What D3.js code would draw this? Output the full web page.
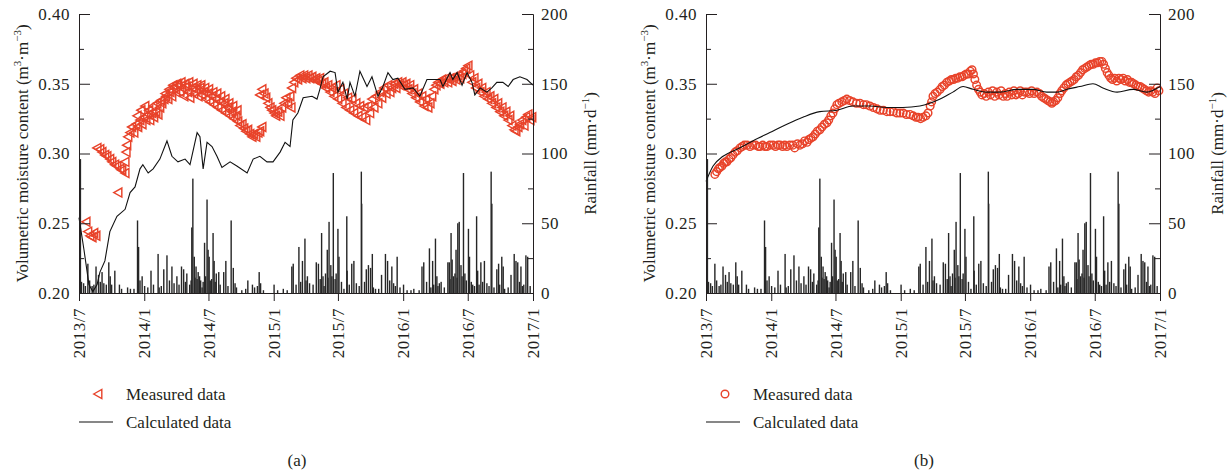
<!DOCTYPE html>
<html>
<head>
<meta charset="utf-8">
<script src="https://cdn.jsdelivr.net/npm/d3@7"></script>
<style>
    body { margin: 0; background: #fff; }
    text { font-family: "Liberation Serif", "DejaVu Serif", serif; fill: #231f20; font-size: 17px; }
    .tick text { letter-spacing: 0.5px; }
</style>
</head>
<body>
<svg id="chart" width="1230" height="475"></svg>
<script>
// x axis runs from 2013/7 to 2017/1, day offsets below are counted from 2013-07-01
let xTickLabels = ["2013/7", "2014/1", "2014/7", "2015/1", "2015/7", "2016/1", "2016/7", "2017/1"];
let moistTicks = [0.20, 0.25, 0.30, 0.35, 0.40];
let moistMinor = [0.225, 0.275, 0.325, 0.375];
let rainTicks = [0, 50, 100, 150, 200];
let rainMinor = [25, 75, 125, 175];

// daily rainfall [day, mm] (same for both panels)
let rainfall = [
    [4, 96], [7, 8], [13, 7], [18, 5], [25, 21], [30, 9], [37, 5], [42, 6], [48, 19], [55, 13], [60, 8], [65, 15],
    [70, 7], [77, 6], [84, 22], [88, 12], [92, 6], [101, 16], [114, 6], [120, 3], [137, 4], [145, 3], [155, 3],
    [165, 52], [168, 33], [172, 9], [178, 12], [185, 5], [194, 4], [203, 16], [210, 6], [223, 28], [226, 4],
    [232, 5], [239, 17], [248, 27], [255, 9], [262, 19], [268, 7], [276, 12], [282, 6], [289, 19], [295, 17],
    [300, 8], [304, 14], [312, 6], [316, 9], [318, 47], [321, 82], [325, 26], [327, 11], [330, 19], [333, 10],
    [336, 15], [340, 12], [343, 9], [347, 4], [350, 8], [354, 36], [357, 12], [361, 67], [364, 31], [367, 26],
    [370, 9], [374, 10], [378, 43], [381, 23], [384, 8], [387, 14], [394, 15], [398, 6], [408, 15], [414, 23],
    [420, 5], [429, 52], [435, 18], [440, 7], [444, 4], [459, 2], [470, 3], [476, 9], [489, 6], [495, 4],
    [503, 5], [508, 15], [512, 7], [520, 2], [550, 6], [560, 2], [576, 3], [587, 2], [600, 19], [604, 21],
    [612, 6], [620, 33], [625, 8], [630, 23], [637, 39], [640, 9], [644, 12], [650, 7], [660, 6], [669, 22],
    [675, 21], [680, 10], [684, 43], [688, 12], [691, 5], [695, 14], [700, 31], [702, 11], [705, 51], [710, 20],
    [713, 12], [717, 86], [722, 10], [725, 14], [730, 46], [733, 26], [740, 8], [747, 3], [755, 55], [756, 16],
    [762, 6], [769, 21], [775, 23], [782, 7], [790, 5], [796, 87], [797, 64], [805, 8], [810, 17], [816, 20],
    [822, 18], [827, 28], [830, 4], [836, 3], [845, 3], [853, 13], [864, 28], [870, 23], [876, 9], [882, 19],
    [887, 7], [892, 5], [897, 26], [905, 4], [915, 6], [925, 2], [936, 2], [944, 3], [959, 2], [967, 19],
    [972, 22], [980, 8], [988, 32], [992, 4], [997, 23], [1000, 6], [1005, 39], [1009, 12], [1012, 5], [1016, 7],
    [1021, 8], [1030, 4], [1040, 22], [1044, 22], [1046, 10], [1049, 43], [1052, 24], [1056, 12], [1060, 14],
    [1063, 31], [1066, 11], [1068, 50], [1072, 51], [1077, 20], [1080, 12], [1084, 86], [1088, 14], [1092, 9],
    [1098, 46], [1101, 26], [1106, 8], [1110, 6], [1115, 5], [1121, 55], [1124, 16], [1128, 6], [1133, 22],
    [1138, 8], [1143, 23], [1150, 7], [1156, 5], [1162, 87], [1164, 64], [1170, 4], [1178, 17], [1183, 21],
    [1186, 6], [1192, 26], [1196, 19], [1200, 3], [1210, 4], [1218, 13], [1227, 28], [1232, 23], [1237, 22],
    [1242, 8], [1246, 19], [1250, 5], [1254, 6], [1260, 27], [1265, 26], [1272, 5]
];

// panel (a) measured moisture [day, m3/m3]
let measuredA = [
    [20, 0.251], [25, 0.244], [31, 0.241], [37, 0.240], [42, 0.243], [48, 0.241],
    [51, 0.304], [59, 0.303], [65, 0.301], [73, 0.299], [79, 0.298], [87, 0.296], [93, 0.294], [101, 0.292],
    [107, 0.291], [110, 0.272], [116, 0.289], [121, 0.288], [130, 0.286],
    [130, 0.294], [133, 0.301], [135, 0.306], [138, 0.312], [144, 0.315], [149, 0.319], [155, 0.315], [161, 0.321],
    [166, 0.319], [172, 0.324], [178, 0.321], [183, 0.326], [189, 0.324], [195, 0.328], [200, 0.324], [206, 0.329],
    [211, 0.326], [217, 0.330], [223, 0.328], [228, 0.333], [234, 0.336], [240, 0.339], [245, 0.341], [251, 0.339],
    [257, 0.344], [262, 0.341], [268, 0.347], [273, 0.344], [279, 0.349], [285, 0.344], [290, 0.347], [296, 0.341],
    [302, 0.348], [307, 0.344], [313, 0.340], [319, 0.347], [324, 0.343], [330, 0.346], [336, 0.341], [341, 0.347],
    [347, 0.342], [352, 0.344], [358, 0.339], [364, 0.343], [369, 0.337], [375, 0.341], [381, 0.335], [386, 0.339],
    [392, 0.333], [398, 0.337], [403, 0.331], [409, 0.336], [414, 0.329], [420, 0.333], [426, 0.327], [431, 0.330],
    [437, 0.325], [443, 0.327], [448, 0.323], [454, 0.320], [460, 0.321], [465, 0.318], [471, 0.316], [476, 0.317],
    [482, 0.314], [488, 0.312], [493, 0.314], [499, 0.312], [505, 0.315], [510, 0.316], [516, 0.319],
    [164, 0.327], [175, 0.331], [186, 0.334], [197, 0.331], [209, 0.334], [220, 0.336], [231, 0.338], [243, 0.343],
    [254, 0.346], [265, 0.349], [276, 0.350], [288, 0.351], [299, 0.350], [310, 0.351], [322, 0.350], [333, 0.349],
    [344, 0.349], [355, 0.347], [366, 0.346], [378, 0.344], [389, 0.343], [400, 0.341], [412, 0.339], [423, 0.336],
    [434, 0.334], [446, 0.331],
    [510, 0.342], [516, 0.346], [522, 0.343], [527, 0.340], [533, 0.336], [539, 0.333], [544, 0.331], [550, 0.329],
    [555, 0.327], [561, 0.330], [567, 0.327], [572, 0.333], [578, 0.336], [584, 0.340], [589, 0.336], [595, 0.341],
    [598, 0.333], [600, 0.347], [606, 0.351], [612, 0.354], [617, 0.353], [623, 0.356], [629, 0.354], [634, 0.356],
    [640, 0.354], [646, 0.356], [651, 0.354], [657, 0.355], [663, 0.353], [668, 0.354], [674, 0.352], [679, 0.354],
    [685, 0.350], [691, 0.351], [696, 0.347], [702, 0.349], [708, 0.344], [713, 0.347], [719, 0.341], [725, 0.349],
    [730, 0.339], [736, 0.346], [742, 0.336], [747, 0.343], [753, 0.333], [758, 0.340], [764, 0.331], [770, 0.339],
    [775, 0.329], [781, 0.336], [787, 0.327], [792, 0.334], [798, 0.326], [804, 0.333], [809, 0.324], [815, 0.334],
    [820, 0.329], [826, 0.339], [832, 0.333], [837, 0.341], [843, 0.336], [849, 0.344], [854, 0.340], [860, 0.347],
    [866, 0.343], [871, 0.349], [877, 0.344], [882, 0.347], [888, 0.350], [894, 0.347], [899, 0.351], [905, 0.349],
    [911, 0.351], [916, 0.349], [922, 0.350], [928, 0.346], [933, 0.349], [939, 0.343], [944, 0.346], [950, 0.340],
    [956, 0.343], [961, 0.337], [967, 0.341], [973, 0.334], [978, 0.339], [984, 0.333], [990, 0.336], [995, 0.341],
    [1001, 0.346], [1007, 0.349], [1012, 0.351], [1018, 0.350], [1023, 0.353], [1029, 0.351], [1035, 0.354],
    [1040, 0.351], [1046, 0.354], [1052, 0.352], [1057, 0.355], [1063, 0.353], [1069, 0.356], [1074, 0.354],
    [1080, 0.357], [1085, 0.359], [1091, 0.361], [1097, 0.363], [1102, 0.356], [1108, 0.351], [1114, 0.354],
    [1119, 0.347], [1125, 0.350], [1131, 0.344], [1136, 0.347], [1142, 0.341], [1148, 0.344], [1153, 0.339],
    [1159, 0.341], [1164, 0.336], [1170, 0.339], [1176, 0.333], [1181, 0.336], [1187, 0.330], [1193, 0.333],
    [1198, 0.327], [1204, 0.330], [1210, 0.324], [1215, 0.327], [1221, 0.320], [1227, 0.317], [1232, 0.316],
    [1238, 0.319], [1243, 0.321], [1249, 0.324], [1255, 0.320], [1260, 0.326], [1266, 0.328], [1272, 0.324],
    [1277, 0.326]
];

// panel (a) calculated moisture
let calculatedA = [
    [0, 0.254], [14, 0.231], [28, 0.206], [39, 0.201], [51, 0.206], [59, 0.215], [73, 0.223], [87, 0.244],
    [107, 0.255], [130, 0.260], [144, 0.272], [158, 0.276], [172, 0.289], [180, 0.292], [195, 0.286], [209, 0.289],
    [228, 0.296], [248, 0.309], [262, 0.298], [279, 0.294], [299, 0.296], [313, 0.292], [333, 0.315], [341, 0.312],
    [350, 0.289], [361, 0.308], [375, 0.305], [389, 0.298], [403, 0.290], [426, 0.294], [445, 0.291], [474, 0.286],
    [491, 0.296], [510, 0.298], [530, 0.294], [547, 0.294], [567, 0.301], [581, 0.308], [595, 0.305], [603, 0.324],
    [617, 0.329], [632, 0.340], [657, 0.341], [671, 0.339], [679, 0.346], [688, 0.355], [708, 0.359], [722, 0.358],
    [730, 0.344], [744, 0.351], [756, 0.339], [764, 0.351], [778, 0.341], [792, 0.359], [812, 0.348], [826, 0.355],
    [843, 0.341], [857, 0.348], [871, 0.358], [885, 0.353], [899, 0.354], [919, 0.346], [942, 0.347], [961, 0.341],
    [981, 0.353], [998, 0.353], [1018, 0.353], [1026, 0.348], [1046, 0.358], [1054, 0.353], [1066, 0.358],
    [1080, 0.349], [1094, 0.358], [1108, 0.351], [1116, 0.342], [1131, 0.347], [1150, 0.344], [1164, 0.347],
    [1178, 0.351], [1195, 0.351], [1210, 0.348], [1224, 0.353], [1243, 0.355], [1263, 0.353], [1280, 0.349]
];

// panel (b) measured moisture
let measuredB = [
    [25, 0.285], [30, 0.287], [35, 0.289], [39, 0.290], [45, 0.291], [50, 0.293], [55, 0.294], [59, 0.294],
    [65, 0.296], [70, 0.297], [76, 0.299], [82, 0.301], [88, 0.302], [96, 0.304], [102, 0.305], [108, 0.306],
    [116, 0.306], [124, 0.305], [132, 0.306], [140, 0.306], [148, 0.305], [152, 0.305], [160, 0.306], [166, 0.305],
    [172, 0.305], [180, 0.306], [189, 0.306], [196, 0.305], [203, 0.306], [209, 0.306], [216, 0.305], [222, 0.306],
    [228, 0.305], [236, 0.306], [245, 0.306], [250, 0.304], [258, 0.307], [265, 0.306], [272, 0.307], [278, 0.309],
    [285, 0.308], [290, 0.310], [296, 0.311], [302, 0.312], [308, 0.314], [314, 0.316], [321, 0.317], [327, 0.319],
    [334, 0.321], [341, 0.322], [346, 0.324], [352, 0.327], [358, 0.329], [363, 0.332], [369, 0.335], [375, 0.336],
    [383, 0.337], [390, 0.338], [397, 0.339], [405, 0.338], [414, 0.337], [424, 0.336], [434, 0.336], [444, 0.335],
    [452, 0.335], [462, 0.334], [472, 0.333], [482, 0.332], [491, 0.331], [500, 0.331], [510, 0.330], [519, 0.330],
    [528, 0.330], [538, 0.329], [547, 0.329], [556, 0.329], [565, 0.328], [575, 0.328], [584, 0.327], [592, 0.326],
    [598, 0.326], [605, 0.325], [612, 0.326], [620, 0.327], [626, 0.329], [632, 0.334], [636, 0.337], [640, 0.341],
    [646, 0.343], [652, 0.344], [660, 0.346], [666, 0.348], [672, 0.349], [679, 0.351], [686, 0.352], [692, 0.353],
    [698, 0.353], [704, 0.354], [710, 0.354], [716, 0.355], [722, 0.355], [728, 0.356], [734, 0.357], [740, 0.357],
    [745, 0.359], [750, 0.360], [754, 0.357], [758, 0.353], [763, 0.349], [768, 0.346], [773, 0.344], [778, 0.342],
    [784, 0.343], [790, 0.341], [796, 0.344], [802, 0.342], [808, 0.345], [814, 0.341], [820, 0.344], [826, 0.342],
    [832, 0.345], [838, 0.341], [844, 0.343], [849, 0.341], [855, 0.344], [862, 0.342], [868, 0.345], [874, 0.342],
    [880, 0.343], [886, 0.345], [892, 0.342], [898, 0.344], [905, 0.344], [912, 0.343], [918, 0.345], [925, 0.343],
    [933, 0.344], [940, 0.343], [946, 0.341], [952, 0.340], [958, 0.339], [964, 0.338], [970, 0.337], [975, 0.336],
    [980, 0.337], [986, 0.338], [992, 0.340], [998, 0.343], [1003, 0.345], [1009, 0.347], [1015, 0.349],
    [1020, 0.350], [1026, 0.351], [1032, 0.352], [1038, 0.353], [1044, 0.355], [1050, 0.356], [1056, 0.358],
    [1062, 0.360], [1068, 0.361], [1074, 0.362], [1080, 0.363], [1086, 0.364], [1092, 0.364], [1098, 0.365],
    [1104, 0.365], [1110, 0.366], [1116, 0.366], [1121, 0.364], [1126, 0.361], [1131, 0.358], [1136, 0.356],
    [1141, 0.354], [1146, 0.353], [1152, 0.354], [1158, 0.352], [1164, 0.354], [1170, 0.353], [1176, 0.354],
    [1182, 0.352], [1188, 0.353], [1194, 0.351], [1200, 0.351], [1206, 0.350], [1212, 0.349], [1218, 0.348],
    [1224, 0.348], [1230, 0.347], [1236, 0.346], [1242, 0.345], [1248, 0.344], [1254, 0.345], [1260, 0.344],
    [1266, 0.343], [1272, 0.347], [1277, 0.345]
];

// panel (b) calculated moisture
let calculatedB = [
    [0, 0.280], [20, 0.291], [48, 0.298], [87, 0.303], [132, 0.309], [180, 0.315], [228, 0.321], [273, 0.326],
    [321, 0.330], [369, 0.331], [414, 0.334], [462, 0.334], [510, 0.333], [555, 0.333], [603, 0.334], [660, 0.339],
    [696, 0.344], [725, 0.348], [753, 0.346], [792, 0.344], [829, 0.344], [877, 0.346], [922, 0.346], [961, 0.344],
    [990, 0.344], [1018, 0.346], [1054, 0.348], [1091, 0.350], [1119, 0.347], [1159, 0.344], [1204, 0.346],
    [1243, 0.344], [1280, 0.348]
];

let svg = d3.select("#chart");
let startDate = new Date(2013, 6, 1);
let endDate = new Date(2017, 0, 1);
let parseTick = d3.timeParse("%Y/%m");
let red = "#e8432a";
let plotW = 454, plotTop = 14, plotBottom = 293;

function dayToDate(d) {
    return d3.timeDay.offset(startDate, d);
}

function drawMarker(sel, marker) {
    if (marker === "triangle") {
        sel.append("path").attr("d", "M-4.3,0L3.8,-4.5L3.8,4.5Z");
    } else {
        sel.append("circle").attr("r", 3.8);
    }
}

function drawPanel(left, measured, calculated, marker, caption, curve) {
    let g = svg.append("g").attr("transform", "translate(" + left + ",0)");
    let x = d3.scaleTime().domain([startDate, endDate]).range([0, plotW]);
    let y = d3.scaleLinear().domain([0.20, 0.40]).range([plotBottom, plotTop]);
    let yr = d3.scaleLinear().domain([0, 200]).range([plotBottom, plotTop]);

    // rainfall bars
    g.append("g").selectAll("rect")
        .data(rainfall)
        .enter().append("rect")
        .attr("x", function (d) { return x(dayToDate(d[0])) - 0.7; })
        .attr("width", 1.4)
        .attr("y", function (d) { return yr(d[1]); })
        .attr("height", function (d) { return yr(0) - yr(d[1]); })
        .attr("fill", "#262626");

    // measured markers
    g.append("g")
        .attr("fill", "none").attr("stroke", red).attr("stroke-width", 1.45)
        .selectAll("g")
        .data(measured)
        .enter().append("g")
        .attr("transform", function (d) { return "translate(" + x(dayToDate(d[0])) + "," + y(d[1]) + ")"; })
        .each(function () { drawMarker(d3.select(this), marker); });

    // calculated line
    let line = d3.line()
        .x(function (d) { return x(dayToDate(d[0])); })
        .y(function (d) { return y(d[1]); })
        .curve(curve);
    g.append("path")
        .datum(calculated)
        .attr("fill", "none")
        .attr("stroke", "#111")
        .attr("stroke-width", 1.1)
        .attr("d", line);

    // axes
    g.append("g")
        .call(d3.axisLeft(y).tickValues(moistTicks).tickFormat(d3.format(".2f"))
            .tickSize(-11).tickSizeOuter(0).tickPadding(9));
    g.append("g").call(d3.axisLeft(y).tickValues(moistMinor).tickFormat("").tickSize(-5).tickSizeOuter(0));

    g.append("g").attr("transform", "translate(" + plotW + ",0)")
        .call(d3.axisRight(yr).tickValues(rainTicks).tickSize(-11).tickSizeOuter(0).tickPadding(8));
    g.append("g").attr("transform", "translate(" + plotW + ",0)")
        .call(d3.axisRight(yr).tickValues(rainMinor).tickFormat("").tickSize(-5).tickSizeOuter(0));

    let xTickDates = xTickLabels.map(parseTick);
    g.append("g").attr("transform", "translate(0," + plotBottom + ")")
        .call(d3.axisBottom(x).tickValues(xTickDates)
            .tickFormat(function (d, i) { return xTickLabels[i]; })
            .tickSize(8).tickSizeOuter(0))
        .selectAll("text")
        .attr("transform", "rotate(-90)")
        .attr("x", -15)
        .attr("y", 0)
        .attr("dy", "0.33em")
        .attr("text-anchor", "end");

    g.selectAll(".domain, .tick line").attr("stroke", "#231f20");
    g.selectAll("g").attr("font-family", null).attr("font-size", null);

    // axis titles
    let yTitle = g.append("text")
        .attr("transform", "translate(-51," + (plotTop + plotBottom) / 2 + ") rotate(-90)")
        .attr("text-anchor", "middle");
    yTitle.append("tspan").text("Volumetric moisture content (m");
    yTitle.append("tspan").attr("dy", -7).attr("font-size", "11px").text("3");
    yTitle.append("tspan").attr("dy", 7).text("\u00b7m");
    yTitle.append("tspan").attr("dy", -7).attr("font-size", "11px").text("\u22123");
    yTitle.append("tspan").attr("dy", 7).text(")");

    let rTitle = g.append("text")
        .attr("transform", "translate(" + (plotW + 63) + "," + (plotTop + plotBottom) / 2 + ") rotate(-90)")
        .attr("text-anchor", "middle");
    rTitle.append("tspan").text("Rainfall (mm\u00b7d");
    rTitle.append("tspan").attr("dy", -7).attr("font-size", "11px").text("\u22121");
    rTitle.append("tspan").attr("dy", 7).text(")");

    // legend
    let lg = g.append("g");
    let mk = lg.append("g").attr("transform", "translate(19,394)")
        .attr("fill", "none").attr("stroke", red).attr("stroke-width", 1.4);
    drawMarker(mk, marker);
    lg.append("text").attr("x", 47).attr("y", 400).text("Measured data");
    lg.append("line").attr("x1", 0).attr("x2", 34).attr("y1", 422).attr("y2", 422)
        .attr("stroke", "#111").attr("stroke-width", 1.1);
    lg.append("text").attr("x", 47).attr("y", 428).text("Calculated data");

    g.append("text").attr("x", 218).attr("y", 466).attr("text-anchor", "middle").text(caption);
}

drawPanel(79, measuredA, calculatedA, "triangle", "(a)", d3.curveLinear);
drawPanel(706, measuredB, calculatedB, "circle", "(b)", d3.curveMonotoneX);
</script>
</body>
</html>
